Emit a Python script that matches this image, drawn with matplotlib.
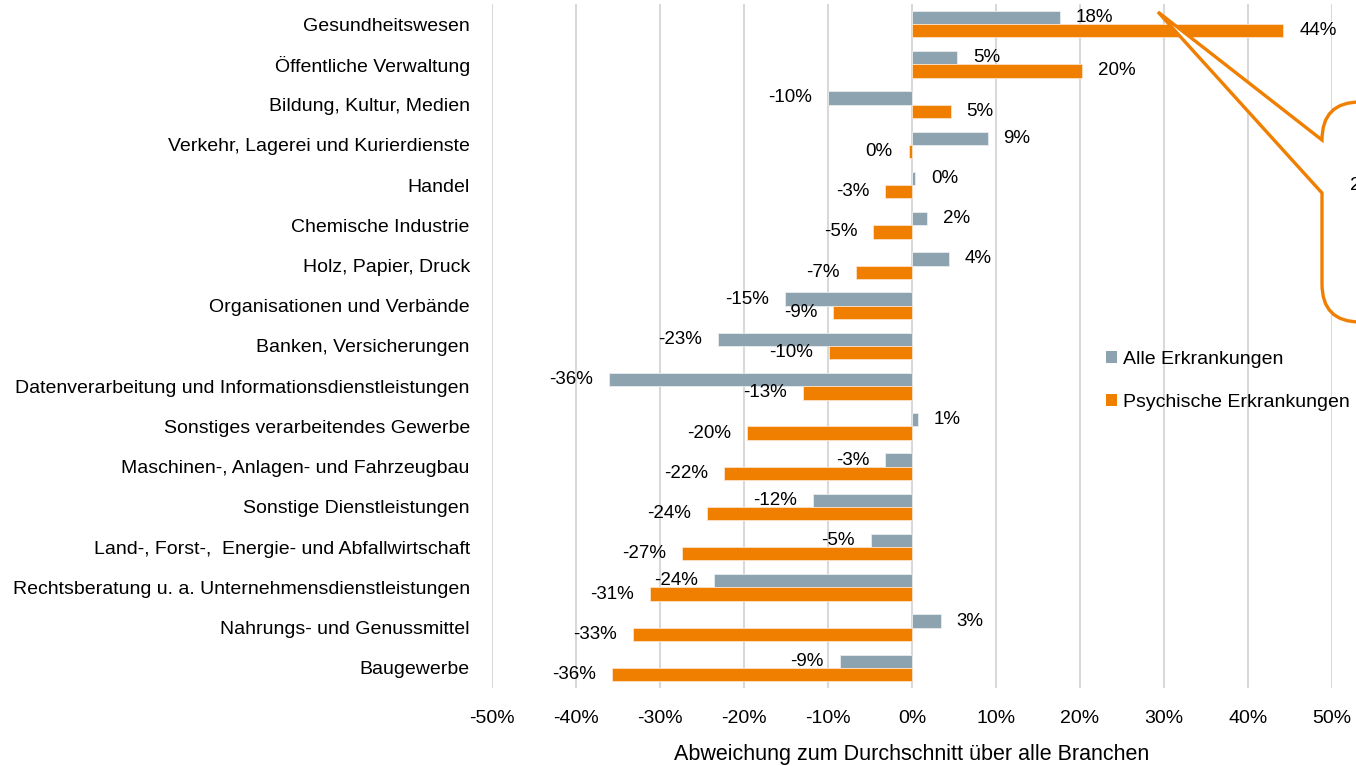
import matplotlib
matplotlib.use('Agg')
import matplotlib.pyplot as plt
import numpy as np
from matplotlib.path import Path
from matplotlib.patches import PathPatch, Patch

plt.rcParams['font.family'] = ['Liberation Sans', 'DejaVu Sans']

categories = [
    "Gesundheitswesen",
    "Öffentliche Verwaltung",
    "Bildung, Kultur, Medien",
    "Verkehr, Lagerei und Kurierdienste",
    "Handel",
    "Chemische Industrie",
    "Holz, Papier, Druck",
    "Organisationen und Verbände",
    "Banken, Versicherungen",
    "Datenverarbeitung und Informationsdienstleistungen",
    "Sonstiges verarbeitendes Gewerbe",
    "Maschinen-, Anlagen- und Fahrzeugbau",
    "Sonstige Dienstleistungen",
    "Land-, Forst-,  Energie- und Abfallwirtschaft",
    "Rechtsberatung u. a. Unternehmensdienstleistungen",
    "Nahrungs- und Genussmittel",
    "Baugewerbe",
]
alle = [17.6, 5.4, -10.0, 9.0, 0.4, 1.8, 4.4, -15.1, -23.1, -36.1,
        0.7, -3.2, -11.8, -4.9, -23.6, 3.4, -8.6]
psych = [44.2, 20.2, 4.6, -0.4, -3.2, -4.6, -6.7, -9.4, -9.9, -13.0,
         -19.6, -22.4, -24.4, -27.4, -31.2, -33.2, -35.7]
series_names = ["Alle Erkrankungen", "Psychische Erkrankungen"]
xticks = [-50, -40, -30, -20, -10, 0, 10, 20, 30, 40, 50]
xlabel = "Abweichung zum Durchschnitt über alle Branchen"
callout_text = "2"

GREY = '#8DA3B0'
ORANGE = '#F07F00'
W, H = 1356, 766

fig = plt.figure(figsize=(W / 100, H / 100), dpi=100)
ax = fig.add_axes([492 / W, 78 / H, 840 / W, 684 / H])

y = np.arange(len(categories))
h = 0.33
b1 = ax.barh(y - h / 2, alle, height=h, color=GREY, edgecolor='#E8ECEF', linewidth=0.6, zorder=2)
b2 = ax.barh(y + h / 2, psych, height=h, color=ORANGE, edgecolor='#FBE3C8', linewidth=0.6, zorder=2)


def fmt(v):
    r = int(round(v))
    if r == 0:
        r = 0
    return f"{r}%"


for bars, vals in ((b1, alle), (b2, psych)):
    for rect, v in zip(bars, vals):
        yc = rect.get_y() + rect.get_height() / 2
        if v >= 0:
            ax.annotate(fmt(v), (v, yc), xytext=(11.5, 0), textcoords='offset points',
                        ha='left', va='center', fontsize=13.5, color='#000000', zorder=3)
        else:
            ax.annotate(fmt(v), (v, yc), xytext=(-11.5, 0), textcoords='offset points',
                        ha='right', va='center', fontsize=13.5, color='#000000', zorder=3)

ax.set_xlim(-50, 50)
ax.set_ylim(len(categories) - 0.5, -0.5)
ax.set_xticks(xticks)
ax.set_xticklabels([f"{t}%" for t in xticks], fontsize=14)
ax.set_yticks(y)
ax.set_yticklabels(categories, fontsize=14)
ax.tick_params(axis='both', length=0)
ax.tick_params(axis='x', pad=16)
ax.tick_params(axis='y', pad=16)
for s in ax.spines.values():
    s.set_visible(False)
ax.xaxis.grid(True, color='#D9D9D9', linewidth=1.5, zorder=0)
ax.set_axisbelow(True)
ax.set_xlabel(xlabel, fontsize=15.5, labelpad=12)

# legend
handles = [Patch(facecolor=GREY, edgecolor='none'), Patch(facecolor=ORANGE, edgecolor='none')]
fig.legend(handles, series_names, loc='upper left', bbox_to_anchor=(1098 / W, 1 - 343 / H),
           frameon=False, fontsize=14, handlelength=0.6, handleheight=0.6,
           handletextpad=0.3, labelspacing=1.35, borderaxespad=0)

# callout (speech bubble), pixel coordinates measured from top-left
def px(xp, yp):
    return (xp / W, 1 - yp / H)

verts = [px(1158, 12), px(1322, 140),
         px(1322, 102), px(1360, 102),
         px(1420, 102), px(1420, 322), px(1360, 322),
         px(1322, 322), px(1322, 284),
         px(1322, 193), px(1158, 12)]
codes = [Path.MOVETO, Path.LINETO,
         Path.CURVE3, Path.CURVE3,
         Path.LINETO, Path.LINETO, Path.LINETO,
         Path.CURVE3, Path.CURVE3,
         Path.LINETO, Path.CLOSEPOLY]
bubble = PathPatch(Path(verts, codes), transform=fig.transFigure, facecolor='white',
                   edgecolor=ORANGE, linewidth=2.4, joinstyle='miter', zorder=5)
fig.add_artist(bubble)
fig.text(1350 / W, 1 - 186 / H, callout_text, fontsize=14, ha='left', va='center', zorder=6)

fig.savefig('out.png', dpi=100)
